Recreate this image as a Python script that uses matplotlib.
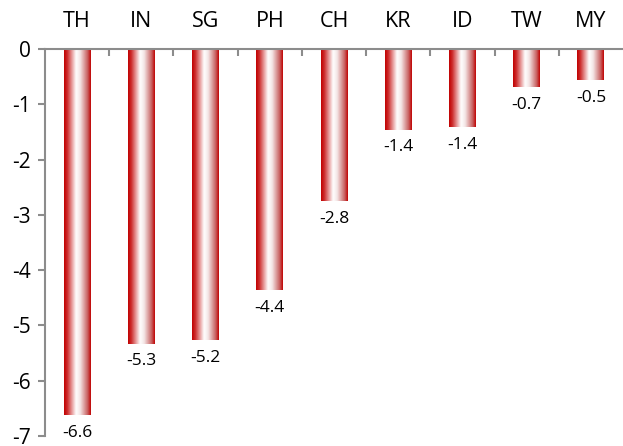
import numpy as np
import matplotlib
matplotlib.use("Agg")
import matplotlib.pyplot as plt
from matplotlib.colors import LinearSegmentedColormap

plt.rcParams['font.family'] = ['Open Sans', 'DejaVu Sans']

# データ
countries = ["TH", "IN", "SG", "PH", "CH", "KR", "ID", "TW", "MY"]
values = [-6.62, -5.33, -5.26, -4.36, -2.75, -1.46, -1.41, -0.69, -0.56]
value_labels = ["-6.6", "-5.3", "-5.2", "-4.4", "-2.8", "-1.4", "-1.4", "-0.7", "-0.5"]
yticks = [0, -1, -2, -3, -4, -5, -6, -7]

# 横方向グラデーション（赤→白→赤）
grad_cmap = LinearSegmentedColormap.from_list(
    "bar_grad",
    [(0.0, "#c00000"), (0.12, "#cc2a2a"), (0.45, "#ffffff"),
     (0.6, "#f4e6e6"), (0.88, "#c86060"), (1.0, "#c00000")])

fig = plt.figure(figsize=(6.23, 4.46), dpi=100)
ax = fig.add_axes([45 / 623, 1 - 436 / 446, 1 - 45 / 623, (436 - 49) / 446])

x = np.arange(len(countries))
bars = ax.bar(x, values, width=0.42, color="none", edgecolor="none", zorder=2)

gradient = np.linspace(0, 1, 256).reshape(1, -1)
for b in bars:
    x0, y0 = b.get_x(), b.get_y()
    w, h = b.get_width(), b.get_height()
    im = ax.imshow(gradient, cmap=grad_cmap, aspect="auto",
                   extent=(x0, x0 + w, y0 + h, y0), zorder=2, interpolation="bicubic")
    im.set_clip_path(b)

for xi, v, lab in zip(x, values, value_labels):
    ax.annotate(lab, (xi, v), xytext=(0, -7), textcoords="offset points",
                ha="center", va="top", fontsize=12.5, color="black")

ax.set_xlim(-0.5, len(countries) - 0.5)
ax.set_ylim(-7, 0)

# 軸
for s in ["right", "bottom"]:
    ax.spines[s].set_visible(False)
ax.spines["top"].set_color("#8c8c8c")
ax.spines["left"].set_color("#8c8c8c")
ax.spines["top"].set_linewidth(1.5)
ax.spines["left"].set_linewidth(1.5)

ax.set_yticks(yticks)
ax.set_yticklabels([str(t) for t in yticks], fontsize=15)
ax.tick_params(axis="y", length=5, width=1.5, color="#8c8c8c", pad=5)

# x軸：上側にラベル、目盛りは境界に下向き
ax.set_xticks(np.arange(0.5, len(countries) - 0.5, 1.0))
ax.set_xticklabels([])
ax.tick_params(axis="x", bottom=False, top=True, direction="in", length=5,
               width=1.5, color="#8c8c8c", labeltop=False, labelbottom=False)
for xi, c in zip(x, countries):
    ax.text(xi, 1.07, c, transform=ax.get_xaxis_transform(), ha="center",
            va="center", fontsize=15.5, color="black")

fig.savefig("out.png", dpi=100)
